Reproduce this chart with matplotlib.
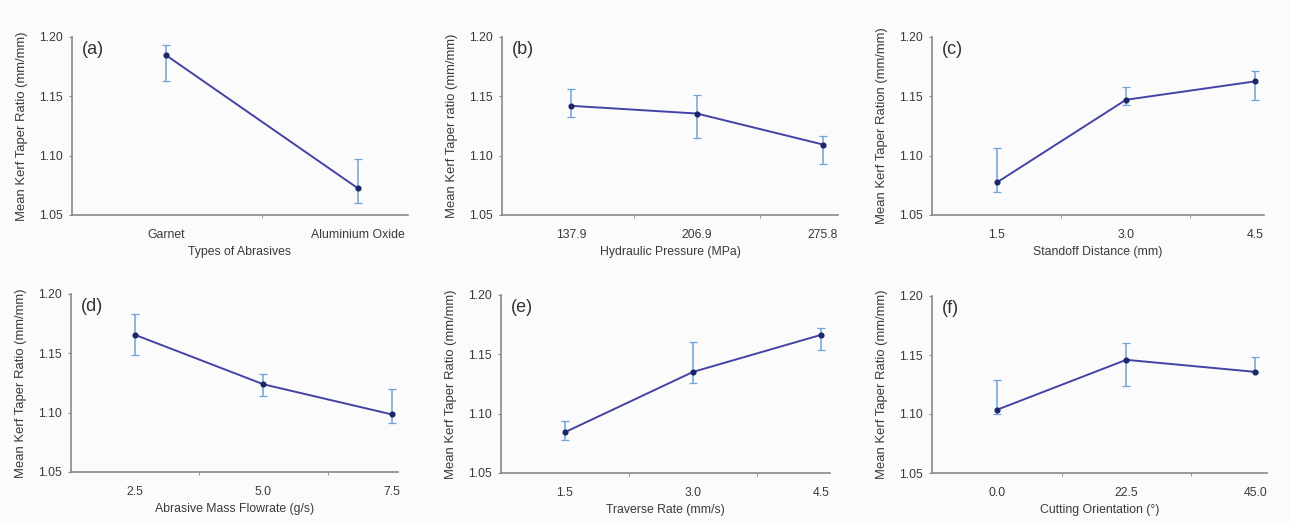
import matplotlib.pyplot as plt
from matplotlib.ticker import FixedLocator

plt.rcParams["font.family"] = ["Liberation Sans", "DejaVu Sans"]

# panel data: means, upper and lower error-bar ends
labels_a = ["Garnet", "Aluminium Oxide"]
mean_a = [1.1846, 1.0724]
hi_a = [1.1930, 1.0971]
lo_a = [1.1627, 1.0604]

labels_b = ["137.9", "206.9", "275.8"]
mean_b = [1.1420, 1.1355, 1.1094]
hi_b = [1.1565, 1.1515, 1.1164]
lo_b = [1.1327, 1.1145, 1.0926]

labels_c = ["1.5", "3.0", "4.5"]
mean_c = [1.0775, 1.1471, 1.1626]
hi_c = [1.1066, 1.1581, 1.1717]
lo_c = [1.0690, 1.1425, 1.1471]

labels_d = ["2.5", "5.0", "7.5"]
mean_d = [1.1656, 1.1239, 1.0985]
hi_d = [1.1831, 1.1329, 1.1196]
lo_d = [1.1484, 1.1137, 1.0909]

labels_e = ["1.5", "3.0", "4.5"]
mean_e = [1.0844, 1.1352, 1.1664]
hi_e = [1.0937, 1.1605, 1.1721]
lo_e = [1.0776, 1.1261, 1.1535]

labels_f = ["0.0", "22.5", "45.0"]
mean_f = [1.1036, 1.1459, 1.1357]
hi_f = [1.1287, 1.1605, 1.1487]
lo_f = [1.0999, 1.1239, 1.1352]

panels = [
    ("(a)", labels_a, mean_a, hi_a, lo_a, "Types of Abrasives", "Mean Kerf Taper Ratio (mm/mm)"),
    ("(b)", labels_b, mean_b, hi_b, lo_b, "Hydraulic Pressure (MPa)", "Mean Kerf Taper ratio (mm/mm)"),
    ("(c)", labels_c, mean_c, hi_c, lo_c, "Standoff Distance (mm)", "Mean Kerf Taper Ration (mm/mm)"),
    ("(d)", labels_d, mean_d, hi_d, lo_d, "Abrasive Mass Flowrate (g/s)", "Mean Kerf Taper Ratio (mm/mm)"),
    ("(e)", labels_e, mean_e, hi_e, lo_e, "Traverse Rate (mm/s)", "Mean Kerf Taper Ratio (mm/mm)"),
    ("(f)", labels_f, mean_f, hi_f, lo_f, "Cutting Orientation (\u00b0)", "Mean Kerf Taper Ratio (mm/mm)"),
]

# axes boxes in pixels (left, right, top, bottom) and x limits
W, H = 1290, 522
boxes = [(72, 408, 37, 215), (502, 838, 37, 215), (932, 1264, 37, 215),
         (71, 398, 294, 472), (501, 830, 295, 473), (932, 1267, 296, 473)]
xlims = [(0.51, 2.26), (0.452, 3.12), (0.496, 3.07),
         (0.502, 3.047), (0.5, 3.07), (0.496, 3.09)]

fig = plt.figure(figsize=(W / 100, H / 100), dpi=100)
fig.patch.set_facecolor("#fbfbfb")

fs = 8.8
for (tag, labels, mean, hi, lo, xlab, ylab), (l, r, t, b), xl in zip(panels, boxes, xlims):
    ax = fig.add_axes([l / W, 1 - b / H, (r - l) / W, (b - t) / H])
    ax.set_facecolor("#fbfbfb")
    x = list(range(1, len(labels) + 1))
    yerr = [[m - v for m, v in zip(mean, lo)], [v - m for m, v in zip(mean, hi)]]
    ax.errorbar(x, mean, yerr=yerr, fmt="none", ecolor="#6fa3d8",
                elinewidth=1.1, capsize=3, capthick=0.9, zorder=2)
    ax.plot(x, mean, color="#4343a6", linewidth=1.4, zorder=3)
    ax.plot(x, mean, "o", color="#1b2766", markersize=3.4, zorder=4)

    ax.set_xlim(*xl)
    ax.set_ylim(1.05, 1.20)
    ax.set_yticks([1.05, 1.10, 1.15, 1.20])
    ax.set_yticklabels(["1.05", "1.10", "1.15", "1.20"])
    ax.set_xticks(x)
    ax.set_xticklabels(labels)
    ax.xaxis.set_minor_locator(FixedLocator([i + 0.5 for i in x[:-1]]))
    ax.tick_params(axis="x", which="major", length=0, pad=10, labelsize=fs, colors="#3a3a3a")
    ax.tick_params(axis="x", which="minor", length=2.5, direction="out", color="#888888")
    ax.tick_params(axis="y", length=2.5, direction="out", labelsize=fs, colors="#3a3a3a",
                   color="#888888", pad=4)

    for s in ["top", "right"]:
        ax.spines[s].set_visible(False)
    for s in ["left", "bottom"]:
        ax.spines[s].set_color("#888888")
        ax.spines[s].set_linewidth(1.2)

    ax.set_xlabel(xlab, fontsize=fs, color="#3a3a3a", labelpad=4)
    ax.set_ylabel(ylab, fontsize=9.4, color="#3a3a3a", labelpad=8)
    ax.text(0.03, 0.975, tag, transform=ax.transAxes, fontsize=13,
            color="#333333", va="top", ha="left")

fig.savefig("out.png", dpi=100, facecolor=fig.get_facecolor())
